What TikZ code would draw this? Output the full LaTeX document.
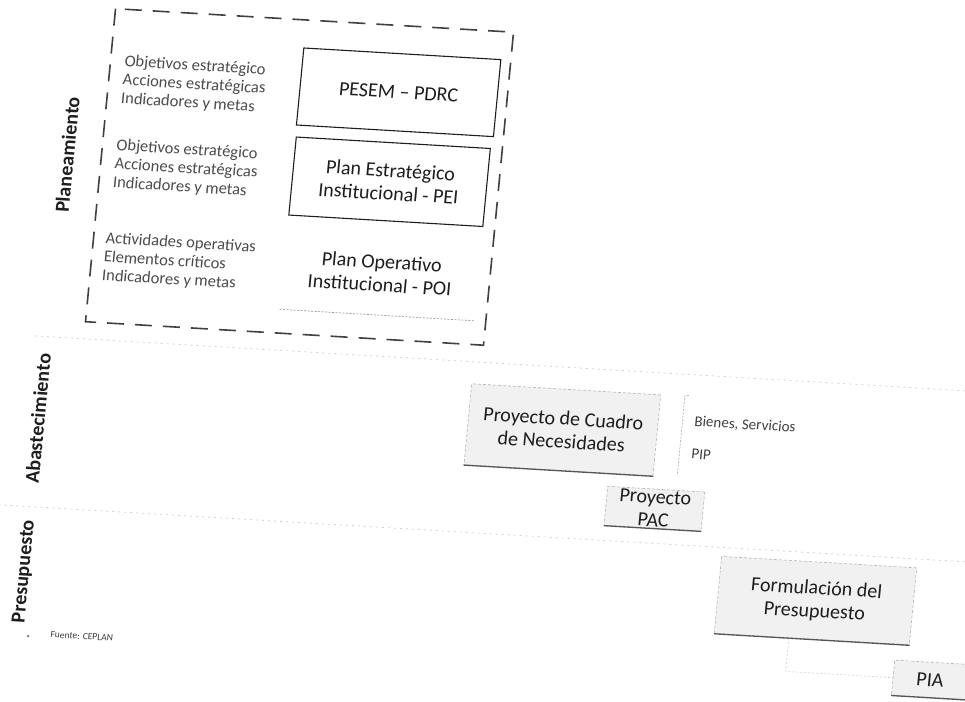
\documentclass[tikz,border=0pt]{standalone}
\usepackage{fontspec}
\setmainfont{Carlito}
\definecolor{ink}{HTML}{1E1E1E}
\definecolor{soft}{HTML}{4C4C4C}
\definecolor{faint}{HTML}{B4B4B4}
\definecolor{boxfill}{HTML}{F1F1F1}
\tikzset{
  outerdash/.style={draw=ink!85, line width=1.6pt, dash pattern=on 17pt off 11pt},
  planbox/.style={draw=ink, line width=1.1pt, align=center, inner sep=0pt,
    font=\fontsize{20}{23}\selectfont, text=ink},
  plainbox/.style={align=center, inner sep=0pt, font=\fontsize{20}{23}\selectfont, text=ink},
  flowbox/.style={draw=faint, line width=0.6pt, dash pattern=on 3pt off 2pt, fill=boxfill,
    align=center, inner sep=0pt, font=\fontsize{20}{23}\selectfont, text=ink},
  shadowline/.style={draw=ink!75, line width=1.3pt},
  faintline/.style={draw=faint, line width=0.7pt, dash pattern=on 2pt off 1.5pt},
  ghostline/.style={draw=faint!60, line width=0.6pt, dash pattern=on 2pt off 2pt},
  sepline/.style={draw=faint!60, line width=0.8pt, dash pattern=on 2pt off 4pt},
  sidetext/.style={align=left, anchor=west, inner sep=0pt, text=soft,
    font=\fontsize{16.5}{18.6}\selectfont},
  lanelabel/.style={rotate=90, inner sep=0pt, text=ink, font=\fontsize{20}{24}\selectfont\bfseries},
  notetext/.style={anchor=west, inner sep=0pt, text=ink!85, font=\fontsize{15}{18}\selectfont},
}
\begin{document}
\begin{tikzpicture}[x=1pt,y=-1pt]
\useasboundingbox (0,0) rectangle (965,701);
\fill[white] (0,0) rectangle (965,701);
\begin{scope}[cm={1,-0.059,0.096,1,(33.6pt,28.3pt)}, transform shape]
  % lane separators
  \coordinate (s1a) at (36,362);  \coordinate (s1b) at (990,362);
  \coordinate (s2a) at (10,532);  \coordinate (s2b) at (1000,532);
  \draw[sepline] (s1a) -- (s1b);
  \draw[sepline] (s2a) -- (s2b);

  % lane labels
  \node[lanelabel] (lplan) at (51,180) {Planeamiento};
  \node[lanelabel] (labas) at (47,444) {Abastecimiento};
  \node[lanelabel] (lpres) at (48,597) {Presupuesto};

  % planning block
  \draw[outerdash] (85,32) rectangle (483,345);
  \node[sidetext] (t1) at (99,103) {Objetivos estratégico\\Acciones estratégicas\\Indicadores y metas};
  \node[sidetext] (t2) at (99,187) {Objetivos estratégico\\Acciones estratégicas\\Indicadores y metas};
  \node[sidetext] (t3) at (97,280) {Actividades operativas\\Elementos críticos\\Indicadores y metas};

  \node[planbox, minimum width=197pt, minimum height=77pt] (pesem) at (374.5,98.5) {PESEM -- PDRC};
  \node[planbox, minimum width=194pt, minimum height=78pt] (pei) at (374,188) {Plan Estratégico\\Institucional - PEI};
  \node[plainbox, minimum width=194pt, minimum height=83pt] (poi) at (374,279.5) {Plan Operativo\\Institucional - POI};
  \draw[faintline, draw=ink!45] (poi.south west) -- (poi.south east);

  % supply
  \node[flowbox, minimum width=189pt, minimum height=81pt] (cuadro) at (569.5,424.5) {Proyecto de Cuadro\\de Necesidades};
  \draw[shadowline] (cuadro.south west) -- (cuadro.south east);
  \coordinate (bt) at (688,383);
  \coordinate (bb) at (688,463);
  \draw[faintline] ([xshift=4pt]bt) -- (bt) -- (bb);
  \node[notetext] (bienes) at (700,409) {Bienes, Servicios};
  \node[notetext] (pip) at (700,441) {PIP};

  \node[flowbox, minimum width=97pt, minimum height=39pt] (pac) at (668.5,497.5) {Proyecto\\PAC};
  \draw[shadowline] (pac.south west) -- (pac.south east);

  % budget
  \node[flowbox, minimum width=195pt, minimum height=77pt] (form) at (837.5,579.5) {Formulación del\\Presupuesto};
  \draw[shadowline] (form.south west) -- (form.south east);
  \node[flowbox, minimum width=74pt, minimum height=35pt] (pia) at (959,651.5) {PIA};
  \draw[shadowline] (pia.south west) -- (pia.south east);
  \draw[ghostline] ([xshift=-23pt]form.south) |- (pia.west);

  % source
  \fill[ink!70] (58,661) circle (1.2);
  \node[anchor=west, inner sep=0pt, text=ink!85, font=\fontsize{9.5}{11}\selectfont] (fuente) at (80,658) {Fuente: CEPLAN};
\end{scope}
\end{tikzpicture}
\end{document}
